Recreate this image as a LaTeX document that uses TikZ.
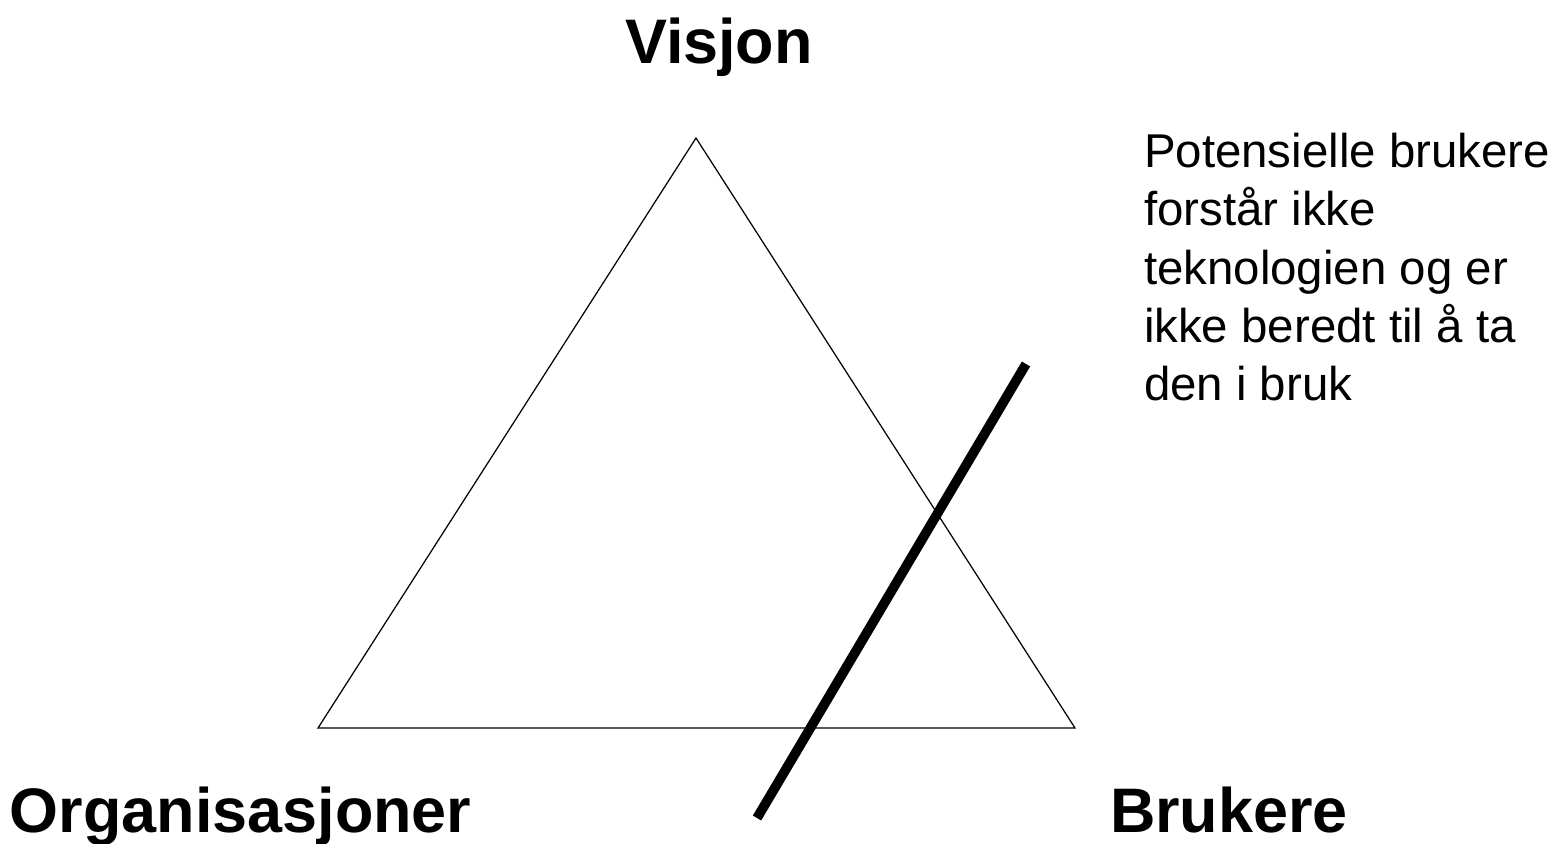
\documentclass[tikz,border=0pt]{standalone}
\usepackage{fontspec}
\setmainfont{Liberation Sans}
\usepackage{tikz}

\begin{document}
\begin{tikzpicture}[x=0.02cm, y=-0.02cm, every node/.style={inner sep=0pt, outer sep=0pt},
    corner/.style={font=\fontsize{35.8}{43}\selectfont\bfseries},
    remark/.style={align=left, font=\fontsize{27}{33.2}\selectfont}]
    \path[use as bounding box] (0,0) rectangle (1563,843);
    % Corners of the triangle
    \coordinate (top) at (696,138);
    \coordinate (left) at (318,728);
    \coordinate (right) at (1075,728);
    \coordinate (cut_start) at (1026,364);
    \coordinate (cut_end) at (757,818);
    % Labels
    \node[corner, anchor=base] (vision) at (719,63) {Visjon};
    \node[corner, anchor=base west] (orgs) at (10,832) {Organisasjoner};
    \node[corner, anchor=base west] (users) at (1110,832) {Brukere};
    \node[remark, anchor=north west] (note) at (1144,133) {Potensielle brukere\\forstår ikke\\teknologien og er\\ikke beredt til å ta\\den i bruk};
    % Paths
    \draw[line width=0.7pt, line join=miter] (top) -- (right) -- (left) -- cycle;
    \draw[line width=5.5pt] (cut_start) -- (cut_end);
\end{tikzpicture}
\end{document}
